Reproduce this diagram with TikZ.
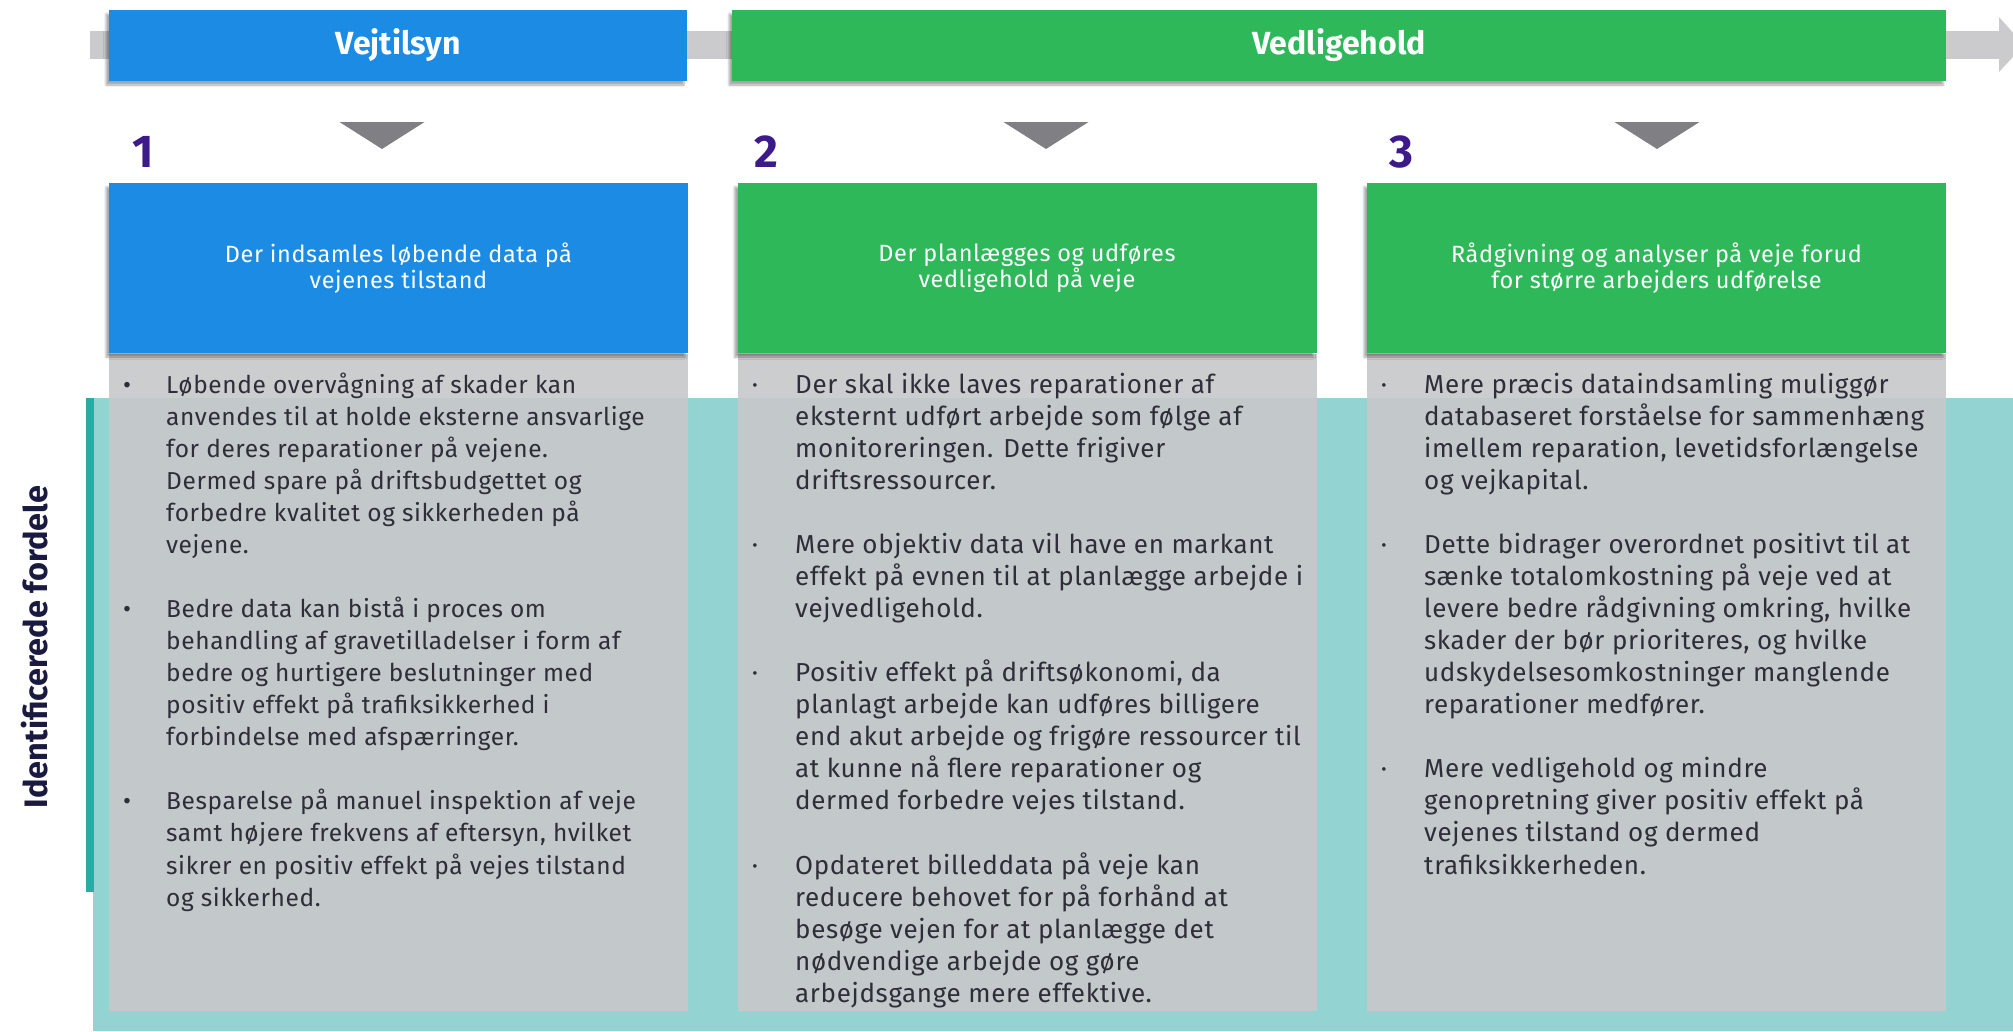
\documentclass[tikz,border=0pt]{standalone}
\usepackage{fontspec}
\setmainfont[LetterSpace=2.5]{Fira Sans}
\newfontfamily\titlefont{Fira Sans}
\usetikzlibrary{shadows.blur}

\begin{document}
\begin{tikzpicture}[x=1pt,y=-1pt,
  phase/.style={minimum height=71pt,inner sep=0pt,text=white,font=\titlefont\bfseries\fontsize{32}{34}\selectfont,
    blur shadow={shadow xshift=-3pt,shadow yshift=-4pt,shadow opacity=35}},
  head/.style={minimum width=579pt,minimum height=170pt,inner sep=0pt,text=white,align=center,
    font=\fontsize{23.5}{25.5}\selectfont,blur shadow={shadow xshift=-3pt,shadow yshift=-4pt,shadow opacity=35}},
  body/.style={minimum width=579pt,minimum height=657pt,inner sep=0pt,fill=bodygray,fill opacity=.92},
  num/.style={inner sep=0pt,text=numpurple,font=\titlefont\bfseries\fontsize{46}{48}\selectfont},
  item/.style={anchor=base west,inner sep=0pt,text=textgray,font=\fontsize{#1}{32.07}\selectfont},
  dot/.style={anchor=base,inner sep=0pt,text=textgray,font=\fontsize{#1}{32.07}\selectfont}]
\definecolor{vejblue}{HTML}{1B8BE3}
\definecolor{vedgreen}{HTML}{2EB85A}
\definecolor{bandgray}{HTML}{CBCBCD}
\definecolor{arrowgray}{HTML}{808084}
\definecolor{numpurple}{HTML}{3C1A8A}
\definecolor{bodygray}{HTML}{C8C9CB}
\definecolor{teal}{HTML}{93D4D3}
\definecolor{tealdark}{HTML}{29ABA6}
\definecolor{textgray}{HTML}{2E2E38}
\definecolor{navy}{HTML}{1A1A40}
\useasboundingbox (0,0) rectangle (2013,1031);

% background for the benefits
\fill[teal] (93,398) rectangle (2013,1031);
\fill[tealdark] (86,398) rectangle (94,892);
\node[rotate=90,text=navy,font=\titlefont\bfseries\fontsize{32.5}{34}\selectfont] (fordele) at (35,647) {Identificerede fordele};

% timeline arrow behind the phases
\fill[bandgray] (90,31) rectangle (1999,59);
\fill[bandgray] (1999,17) -- (2024,45) -- (1999,72) -- cycle;
\node[phase,fill=vejblue,minimum width=578pt] (vejtilsyn) at (398,45.5) {Vejtilsyn};
\node[phase,fill=vedgreen,minimum width=1214pt] (vedligehold) at (1339,45.5) {Vedligehold};

% the three columns
\foreach \n/\crlr/\cx/\tx/\nx/\htext in {
  {1/vejblue/398.5/382/143.5/Der indsamles løbende data på\\vejenes tilstand},
  {2/vedgreen/1027/1046/766/Der planlægges og udføres\\vedligehold på veje},
  {3/vedgreen/1656.5/1657/1401.5/Rådgivning og analyser på veje forud\\for større arbejders udførelse}}
{
  \node[body] (body\n) at (\cx,682.5) {};
  \node[head,fill=\crlr] (head\n) at (\cx,268) {\htext};
  \fill[arrowgray] (\tx-42.5,122) -- (\tx+42.5,122) -- (\tx,149) -- cycle;
  \node[num] (num\n) at (\nx,152) {\n};
}

% bullets, column 1
\foreach \i/\btext in {
  {0/Løbende overvågning af skader kan\\anvendes til at holde eksterne ansvarlige\\for deres reparationer på vejene.\\Dermed spare på driftsbudgettet og\\forbedre kvalitet og sikkerheden på\\vejene.},
  {7/Bedre data kan bistå i proces om\\behandling af gravetilladelser i form af\\bedre og hurtigere beslutninger med\\positiv effekt på trafiksikkerhed i\\forbindelse med afspærringer.},
  {13/Besparelse på manuel inspektion af veje\\samt højere frekvens af eftersyn, hvilket\\sikrer en positiv effekt på vejes tilstand\\og sikkerhed.}}
{
  \node[dot=24.5] (dotA\i) at (127,393+32.07*\i) {•};
  \node[item=24.5] (itemA\i) at (166,393+32.07*\i) {\parbox[t]{560pt}{\btext}};
}

% bullets, column 2
\foreach \i/\btext in {
  {0/Der skal ikke laves reparationer af\\eksternt udført arbejde som følge af\\monitoreringen. Dette frigiver\\driftsressourcer.},
  {5/Mere objektiv data vil have en markant\\effekt på evnen til at planlægge arbejde i\\vejvedligehold.},
  {9/Positiv effekt på driftsøkonomi, da\\planlagt arbejde kan udføres billigere\\end akut arbejde og frigøre ressourcer til\\at kunne nå flere reparationer og\\dermed forbedre vejes tilstand.},
  {15/Opdateret billeddata på veje kan\\reducere behovet for på forhånd at\\besøge vejen for at planlægge det\\nødvendige arbejde og gøre\\arbejdsgange mere effektive.}}
{
  \node[dot=26] (dotB\i) at (755,393+32.07*\i) {·};
  \node[item=26] (itemB\i) at (795,393+32.07*\i) {\parbox[t]{560pt}{\btext}};
}

% bullets, column 3
\foreach \i/\btext in {
  {0/Mere præcis dataindsamling muliggør\\databaseret forståelse for sammenhæng\\imellem reparation, levetidsforlængelse\\og vejkapital.},
  {5/Dette bidrager overordnet positivt til at\\sænke totalomkostning på veje ved at\\levere bedre rådgivning omkring, hvilke\\skader der bør prioriteres, og hvilke\\udskydelsesomkostninger manglende\\reparationer medfører.},
  {12/Mere vedligehold og mindre\\genopretning giver positiv effekt på\\vejenes tilstand og dermed\\trafiksikkerheden.}}
{
  \node[dot=26] (dotC\i) at (1384,393+32.07*\i) {·};
  \node[item=26] (itemC\i) at (1424,393+32.07*\i) {\parbox[t]{560pt}{\btext}};
}
\end{tikzpicture}
\end{document}
